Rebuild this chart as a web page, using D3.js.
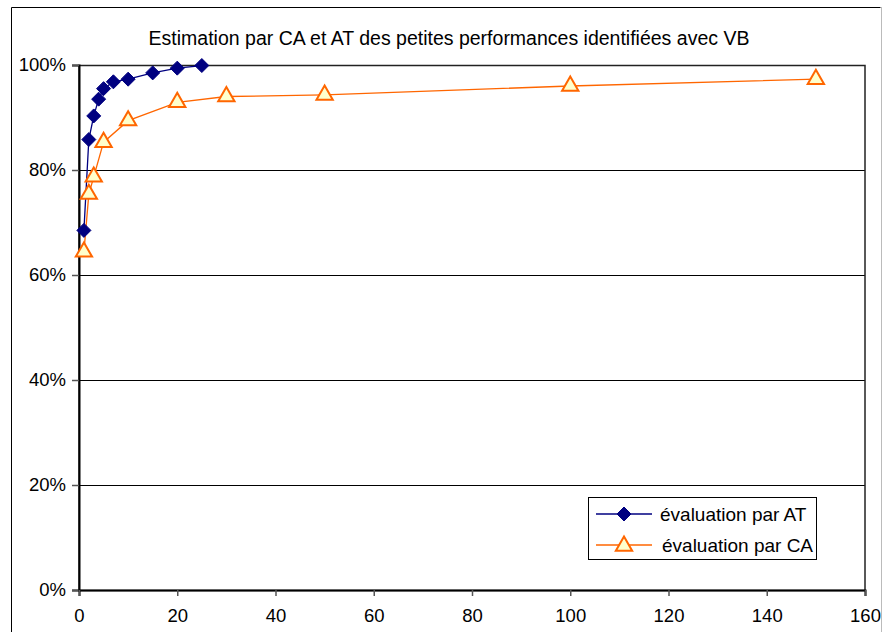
<!DOCTYPE html>
<html><head><meta charset="utf-8">
<script src="https://cdn.jsdelivr.net/npm/d3@7"></script>
<style>body{margin:0;background:#fff}svg{display:block}text{font-family:"Liberation Sans",Arial,sans-serif}</style>
</head><body><svg id="c" width="882" height="632"></svg>
<script>
const title = "Estimation par CA et AT des petites performances identifiées avec VB";
const atX = [1, 2, 3, 4, 5, 7, 10, 15, 20, 25];
const atY = [0.685, 0.858, 0.903, 0.935, 0.955, 0.968, 0.973, 0.985, 0.994, 0.999];
const caX = [1, 2, 3, 5, 10, 20, 30, 50, 100, 150];
const caY = [0.644, 0.754, 0.787, 0.853, 0.894, 0.929, 0.940, 0.943, 0.960, 0.973];
const xTicks = [0, 20, 40, 60, 80, 100, 120, 140, 160];
const yTicks = [0, 0.2, 0.4, 0.6, 0.8, 1.0];
const seriesNames = ["évaluation par AT", "évaluation par CA"];

const svg = d3.select("#c");
const L = 79, R = 865, T = 65, B = 590;
const x = d3.scaleLinear().domain([0, 160]).range([L, R]);
const y = d3.scaleLinear().domain([0, 1]).range([B, T]);

// outer frame
svg.append("path").attr("d", `M11.5,632 V7.5 H880.5`).attr("fill", "none").attr("stroke", "#000").attr("stroke-width", 1);
svg.append("line").attr("x1", 881.5).attr("x2", 881.5).attr("y1", 7).attr("y2", 632).attr("stroke", "#bbb");

svg.append("text").attr("x", 449).attr("y", 45).attr("text-anchor", "middle").attr("font-size", 19.5).attr("fill", "#000").text(title);

// gridlines
svg.append("g").selectAll("line").data(yTicks.filter(d => d > 0)).join("line")
  .attr("x1", L).attr("x2", R).attr("y1", d => Math.round(y(d)) + 0.5).attr("y2", d => Math.round(y(d)) + 0.5)
  .attr("stroke", "#000").attr("stroke-width", 1);
// plot border right/top
svg.append("rect").attr("x", L).attr("y", T + 0.5).attr("width", R - L).attr("height", B - T)
  .attr("fill", "none").attr("stroke", "#222").attr("stroke-width", 1.5);

// axes
const yAxis = d3.axisLeft(y).tickValues(yTicks).tickFormat(d3.format(".0%")).tickSize(7).tickPadding(6);
const gy = svg.append("g").attr("transform", `translate(${L},0)`).call(yAxis);
const xAxis = d3.axisBottom(x).tickValues(xTicks).tickSize(6).tickPadding(13);
const gx = svg.append("g").attr("transform", `translate(0,${B})`).call(xAxis);
[gy, gx].forEach(g => {
  g.select(".domain").attr("stroke", "#000").attr("stroke-width", 2);
  g.selectAll(".tick line").attr("stroke", "#555").attr("stroke-width", 1.5);
  g.selectAll("text").attr("font-size", 18.5).attr("fill", "#000").attr("font-family", '"Liberation Sans",Arial,sans-serif');
});

const line = d3.line().x(d => x(d[0])).y(d => y(d[1]));
const atData = atX.map((v, i) => [v, atY[i]]);
const caData = caX.map((v, i) => [v, caY[i]]);

svg.append("path").datum(caData).attr("d", line).attr("fill", "none").attr("stroke", "#FF6600").attr("stroke-width", 1.3);
svg.append("path").datum(atData).attr("d", line).attr("fill", "none").attr("stroke", "#000080").attr("stroke-width", 1.3);

const tri = d3.symbol().type(d3.symbolTriangle).size(115);
const diaPath = "M0,-7L7,0L0,7L-7,0Z";

function drawTri(g, px, py) {
  g.append("path").attr("d", tri).attr("transform", `translate(${px},${py})`)
    .attr("fill", "#FFFFCC").attr("stroke", "#FF6600").attr("stroke-width", 2);
}
function drawDia(g, px, py) {
  g.append("path").attr("d", diaPath).attr("transform", `translate(${px},${py})`)
    .attr("fill", "#000080").attr("stroke", "#000080").attr("stroke-width", 1);
}
const mk = svg.append("g");
caData.forEach(d => drawTri(mk, x(d[0]), y(d[1])));
atData.forEach(d => drawDia(mk, x(d[0]), y(d[1])));

// legend
const lg = svg.append("g");
lg.append("rect").attr("x", 588.5).attr("y", 497.5).attr("width", 228).attr("height", 62)
  .attr("fill", "#fff").attr("stroke", "#000").attr("stroke-width", 1);
const rows = [514, 545];
lg.append("line").attr("x1", 596).attr("x2", 652).attr("y1", rows[0]).attr("y2", rows[0]).attr("stroke", "#000080").attr("stroke-width", 1.3);
drawDia(lg, 624, rows[0]);
lg.append("line").attr("x1", 596).attr("x2", 652).attr("y1", rows[1]).attr("y2", rows[1]).attr("stroke", "#FF6600").attr("stroke-width", 1.3);
drawTri(lg, 624, rows[1] + 1);
lg.selectAll("text.l").data(seriesNames).join("text").attr("class", "l")
  .attr("x", (d, i) => i === 0 ? 660 : 662).attr("y", (d, i) => rows[i] + 7)
  .attr("font-size", 19).attr("fill", "#000").text(d => d);
</script></body></html>
